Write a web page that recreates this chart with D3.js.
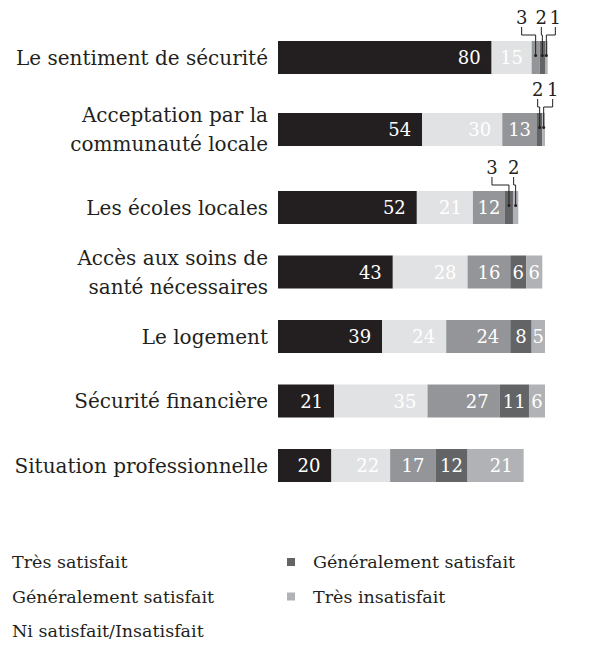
<!DOCTYPE html>
<html>
<head>
<meta charset="utf-8">
<script src="https://cdn.jsdelivr.net/npm/d3@7"></script>
<style>
  body { margin: 0; background: #fff; }
  svg { display: block; font-family: "DejaVu Serif", serif; }
</style>
</head>
<body>
<svg width="607" height="647"></svg>
<script>
const categories = [
    ["Le sentiment de sécurité"],
    ["Acceptation par la", "communauté locale"],
    ["Les écoles locales"],
    ["Accès aux soins de", "santé nécessaires"],
    ["Le logement"],
    ["Sécurité financière"],
    ["Situation professionnelle"]
];

const seriesNames = ["Très satisfait", "Généralement satisfait", "Ni satisfait/Insatisfait", "Généralement satisfait", "Très insatisfait"];
const seriesColors = ["#231f20", "#e1e2e4", "#939598", "#636466", "#b0b2b5"];

const tresSatisfait = [80, 54, 52, 43, 39, 21, 20];
const generalementSatisfait = [15, 30, 21, 28, 24, 35, 22];
const niSatisfait = [3, 13, 12, 16, 24, 27, 17];
const generalementInsatisfait = [2, 2, 3, 6, 8, 11, 12];
const tresInsatisfait = [1, 1, 2, 6, 5, 6, 21];

const series = [tresSatisfait, generalementSatisfait, niSatisfait, generalementInsatisfait, tresInsatisfait];

// small values get a label outside the bar, with a leader line
const calloutMax = 3;
const calloutShift = [[-14, -1, 9], [-2, 9], [-17, -2]];
const rowExtra = [0, 7.5, 21, 21, 21, 21, 21];

const svg = d3.select("svg");

const x = d3.scaleLinear().domain([0, 100]).range([278, 545]);
const barH = 33;
const y = d3.scaleLinear().domain([0, 6]).range([41, 428]);
const rowTop = i => y(i) + rowExtra[i];

const rows = categories.map((lines, i) => {
    let acc = 0;
    const segs = series.map((s, k) => {
        const seg = {row: i, k: k, value: s[i], x0: acc, x1: acc + s[i]};
        acc += s[i];
        return seg;
    });
    return {lines: lines, segs: segs, top: rowTop(i)};
});

// category labels
const labels = svg.append("g")
    .selectAll("text")
    .data(rows)
    .join("text")
    .attr("x", 268)
    .attr("text-anchor", "end")
    .attr("font-size", "20px")
    .attr("fill", "#231f20");

labels.each(function(d) {
    const c = d.top + barH / 2;
    const n = d.lines.length;
    d3.select(this).selectAll("tspan")
        .data(d.lines)
        .join("tspan")
        .attr("x", 268)
        .attr("y", (l, j) => c + (j - (n - 1) / 2) * 29 + 7)
        .text(l => l);
});

// bars
const rowG = svg.append("g")
    .selectAll("g")
    .data(rows)
    .join("g");

rowG.selectAll("rect")
    .data(d => d.segs)
    .join("rect")
    .attr("x", d => x(d.x0))
    .attr("y", d => rowTop(d.row))
    .attr("width", d => x(d.x1) - x(d.x0))
    .attr("height", barH)
    .attr("fill", d => seriesColors[d.k]);

rowG.selectAll("text.val")
    .data(d => d.segs.filter(s => s.value > calloutMax))
    .join("text")
    .attr("class", "val")
    .attr("y", d => rowTop(d.row) + barH / 2 + 6.5)
    .attr("font-size", "18px")
    .attr("fill", "#fff")
    .attr("text-anchor", "end")
    .text(d => d.value)
    .each(function(d) {
        const tw = this.getComputedTextLength();
        const w = x(d.x1) - x(d.x0);
        const pad = Math.min(11, (w - tw) / 2);
        d3.select(this).attr("x", x(d.x1) - pad);
    });

// callouts
const callouts = [];
rows.forEach((r, i) => {
    r.segs.filter(s => s.value <= calloutMax).forEach((s, j) => {
        const cx = (x(s.x0) + x(s.x1)) / 2;
        callouts.push({seg: s, cx: cx, lx: cx + calloutShift[i][j], top: r.top});
    });
});

const cg = svg.append("g");

cg.selectAll("path")
    .data(callouts)
    .join("path")
    .attr("fill", "none")
    .attr("stroke", "#231f20")
    .attr("stroke-width", 1)
    .attr("d", d => {
        const p = d3.path();
        p.moveTo(d.lx, d.top - 14);
        p.lineTo(d.lx, d.top - 6);
        p.lineTo(d.cx, d.top - 6);
        p.lineTo(d.cx, d.top + barH / 2 - 2);
        return p.toString();
    });

cg.selectAll("circle")
    .data(callouts)
    .join("circle")
    .attr("cx", d => d.cx)
    .attr("cy", d => d.top + barH / 2 - 2)
    .attr("r", 1.5)
    .attr("fill", "#231f20");

cg.selectAll("text")
    .data(callouts)
    .join("text")
    .attr("x", d => d.lx)
    .attr("y", d => d.top - 17)
    .attr("text-anchor", "middle")
    .attr("font-size", "18px")
    .attr("fill", "#231f20")
    .text(d => d.seg.value);

// legend
const legend = svg.append("g")
    .selectAll("g")
    .data(seriesNames)
    .join("g")
    .attr("transform", (d, i) => i < 3
        ? `translate(12, ${568 + i * 34.5})`
        : `translate(287, ${568 + (i - 3) * 34.5})`);

legend.filter((d, i) => i >= 3)
    .append("rect")
    .attr("y", -10)
    .attr("width", 8)
    .attr("height", 8)
    .attr("fill", (d, i) => seriesColors[i + 3]);

legend.append("text")
    .attr("x", (d, i) => i < 3 ? 0 : 26)
    .attr("font-size", "17.5px")
    .attr("fill", "#231f20")
    .text(d => d);
</script>
</body>
</html>
